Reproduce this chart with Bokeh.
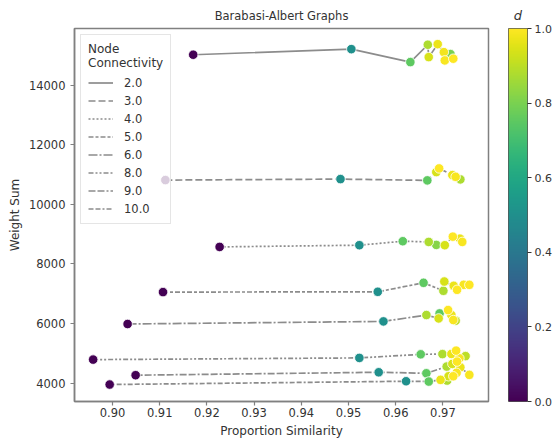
import numpy as np
from bokeh.plotting import figure
from bokeh.models import Range1d, FixedTicker, PrintfTickFormatter, LinearColorMapper, ColumnDataSource
from bokeh.palettes import Viridis256
from bokeh.transform import linear_cmap
from bokeh.layouts import row
from bokeh.embed import file_html
from bokeh.resources import INLINE

# ---------------- data ----------------
connectivity = ["2.0", "3.0", "4.0", "5.0", "6.0", "8.0", "9.0", "10.0"]

sim_k2 = [0.9171, 0.9506, 0.9631, 0.9716, 0.9668, 0.9670, 0.9689, 0.9702, 0.9704, 0.9722]
wsum_k2 = [15018, 15206, 14771, 15039, 15353, 14938, 15373, 15105, 14828, 14885]
d_k2 = [0.0, 0.5, 0.75, 0.8, 0.875, 0.94, 0.97, 0.984, 0.992, 1.0]

sim_k3 = [0.9112, 0.9483, 0.9667, 0.9737, 0.9686, 0.9720, 0.9727, 0.9692]
wsum_k3 = [10814, 10847, 10804, 10837, 11081, 10981, 10924, 11205]
d_k3 = [0.0, 0.5, 0.75, 0.875, 0.94, 0.97, 0.99, 1.0]

sim_k4 = [0.9227, 0.9523, 0.9615, 0.9686, 0.9670, 0.9704, 0.9736, 0.9741, 0.9721]
wsum_k4 = [8573, 8630, 8763, 8640, 8740, 8629, 8850, 8740, 8917]
d_k4 = [0.0, 0.5, 0.75, 0.82, 0.875, 0.94, 0.97, 0.99, 1.0]

sim_k5 = [0.9107, 0.9562, 0.9659, 0.9701, 0.9703, 0.9723, 0.9744, 0.9730, 0.9756]
wsum_k5 = [7057, 7067, 7368, 7101, 7412, 7268, 7301, 7134, 7301]
d_k5 = [0.0, 0.5, 0.75, 0.875, 0.94, 0.97, 0.99, 1.0, 1.0]

sim_k6 = [0.9032, 0.9574, 0.9693, 0.9665, 0.9727, 0.9691, 0.9718, 0.9722, 0.9711]
wsum_k6 = [5987, 6074, 6342, 6288, 6097, 6174, 6288, 6121, 6455]
d_k6 = [0.0, 0.5, 0.75, 0.875, 0.9, 0.94, 0.97, 0.99, 1.0]

sim_k8 = [0.8959, 0.9523, 0.9653, 0.9699, 0.9748, 0.9718, 0.9735, 0.9728]
wsum_k8 = [4793, 4850, 4970, 4977, 4910, 4983, 4836, 5094]
d_k8 = [0.0, 0.5, 0.75, 0.875, 0.9, 0.97, 0.99, 1.0]

sim_k9 = [0.9049, 0.9564, 0.9665, 0.9708, 0.9720, 0.9737, 0.9756, 0.9730]
wsum_k9 = [4270, 4368, 4334, 4559, 4649, 4535, 4281, 4726]
d_k9 = [0.0, 0.5, 0.75, 0.875, 0.94, 0.97, 0.99, 1.0]

sim_k10 = [0.8994, 0.9622, 0.9670, 0.9709, 0.9712, 0.9695, 0.9729, 0.9722]
wsum_k10 = [3957, 4067, 4057, 4090, 4234, 4114, 4350, 4234]
d_k10 = [0.0, 0.5, 0.75, 0.875, 0.94, 0.97, 0.99, 1.0]

x_ticks = [0.90, 0.91, 0.92, 0.93, 0.94, 0.95, 0.96, 0.97]
y_ticks = [4000, 6000, 8000, 10000, 12000, 14000]
cbar_ticks = [0.0, 0.2, 0.4, 0.6, 0.8, 1.0]

series = [
    (sim_k2, wsum_k2, d_k2),
    (sim_k3, wsum_k3, d_k3),
    (sim_k4, wsum_k4, d_k4),
    (sim_k5, wsum_k5, d_k5),
    (sim_k6, wsum_k6, d_k6),
    (sim_k8, wsum_k8, d_k8),
    (sim_k9, wsum_k9, d_k9),
    (sim_k10, wsum_k10, d_k10),
]

# ---------------- styles ----------------
dashes = ["solid", "7 3", "2 2", "5 2 3 2", "9 2 2 2", "5 2 2 2 2 2", "7 2 7 2 2 2", "5 2 5 2 2 2"]
FONT = "DejaVu Sans"
TXT = "#333333"
SPINE = "#808080"
LINE = "#8c8c8c"

p = figure(width=498, height=440,
           x_range=Range1d(0.89195, 0.97966), y_range=Range1d(3388, 15898),
           output_backend="svg", toolbar_location=None,
           min_border_left=74, min_border_right=10, min_border_top=27, min_border_bottom=39,
           title="Barabasi-Albert Graphs")
p.title.align = "center"
p.title.text_font = FONT
p.title.text_font_size = "11.5px"
p.title.text_font_style = "normal"
p.title.text_color = TXT
p.title.standoff = 11

p.xgrid.visible = False
p.ygrid.visible = False
p.outline_line_color = SPINE
p.outline_line_width = 1.5
p.background_fill_color = "white"
p.border_fill_color = "white"

for ax in (p.xaxis, p.yaxis):
    ax.axis_line_color = SPINE
    ax.axis_line_width = 1.5
    ax.major_tick_line_color = SPINE
    ax.major_tick_line_width = 1.2
    ax.major_tick_in = 0
    ax.major_tick_out = 4
    ax.minor_tick_line_color = None
    ax.major_label_text_font = FONT
    ax.major_label_text_font_size = "11.5px"
    ax.major_label_text_color = TXT
    ax.axis_label_text_font = FONT
    ax.axis_label_text_font_size = "12px"
    ax.axis_label_text_font_style = "normal"
    ax.axis_label_text_color = TXT

p.xaxis.ticker = FixedTicker(ticks=x_ticks)
p.xaxis.formatter = PrintfTickFormatter(format="%.2f")
p.xaxis.axis_label = "Proportion Similarity"
p.xaxis.major_label_standoff = 2
p.xaxis.axis_label_standoff = 4
p.yaxis.ticker = FixedTicker(ticks=y_ticks)
p.yaxis.axis_label = "Weight Sum"
p.yaxis.major_label_standoff = 5
p.yaxis.axis_label_standoff = 4

# lines (sorted by x, as a line plot does)
for (xs, ys, ds), lab, dash in zip(series, connectivity, dashes):
    order = np.argsort(xs)
    p.line(np.asarray(xs)[order], np.asarray(ys)[order], line_color=LINE, line_width=1.7,
           line_dash=dash, legend_label=lab)

# points coloured by d
all_x, all_y, all_d = [], [], []
for xs, ys, ds in series:
    all_x += list(xs)
    all_y += list(ys)
    all_d += list(ds)
src = ColumnDataSource(dict(x=all_x, y=all_y, d=all_d))
p.scatter("x", "y", source=src, size=9.5,
          fill_color=linear_cmap("d", Viridis256, 0, 1),
          line_color="white", line_width=0.8)

lg = p.legend[0]
lg.location = "top_left"
lg.margin = 6
lg.padding = 7
lg.title = "Node\nConnectivity"
lg.title_text_font = FONT
lg.title_text_font_size = "12px"
lg.title_text_font_style = "normal"
lg.title_text_color = TXT
lg.title_standoff = 5
lg.label_text_font = FONT
lg.label_text_font_size = "11.5px"
lg.label_text_color = TXT
lg.glyph_width = 25
lg.glyph_height = 15
lg.label_height = 15
lg.label_standoff = 11
lg.spacing = 3
lg.border_line_color = "#cccccc"
lg.border_line_width = 1
lg.background_fill_color = "white"
lg.background_fill_alpha = 0.8

# ---------------- colour bar ----------------
cb = figure(width=60, height=440, x_range=Range1d(0, 1), y_range=Range1d(0, 1),
            output_backend="svg", toolbar_location=None, y_axis_location="right",
            min_border_left=10, min_border_right=31, min_border_top=27, min_border_bottom=39,
            title="d")
cb.title.align = "center"
cb.title.text_font = FONT
cb.title.text_font_size = "13px"
cb.title.text_font_style = "italic"
cb.title.text_color = TXT
cb.title.standoff = 11
cb.xaxis.visible = False
cb.xgrid.visible = False
cb.ygrid.visible = False
cb.outline_line_color = "#555555"
cb.outline_line_width = 1
grad = np.linspace(0, 1, 256).reshape(256, 1)
cb.image(image=[grad], x=0, y=0, dw=1, dh=1,
         color_mapper=LinearColorMapper(palette=Viridis256, low=0, high=1))
cb.yaxis.ticker = FixedTicker(ticks=cbar_ticks)
cb.yaxis.formatter = PrintfTickFormatter(format="%.1f")
cb.yaxis.axis_line_color = None
cb.yaxis.major_tick_line_color = TXT
cb.yaxis.major_tick_in = 0
cb.yaxis.major_tick_out = 4
cb.yaxis.minor_tick_line_color = None
cb.yaxis.major_label_standoff = 3
cb.yaxis.major_label_text_font = FONT
cb.yaxis.major_label_text_font_size = "11px"
cb.yaxis.major_label_text_color = TXT

layout = row(p, cb)
open("out.html", "w").write(file_html(layout, INLINE))
